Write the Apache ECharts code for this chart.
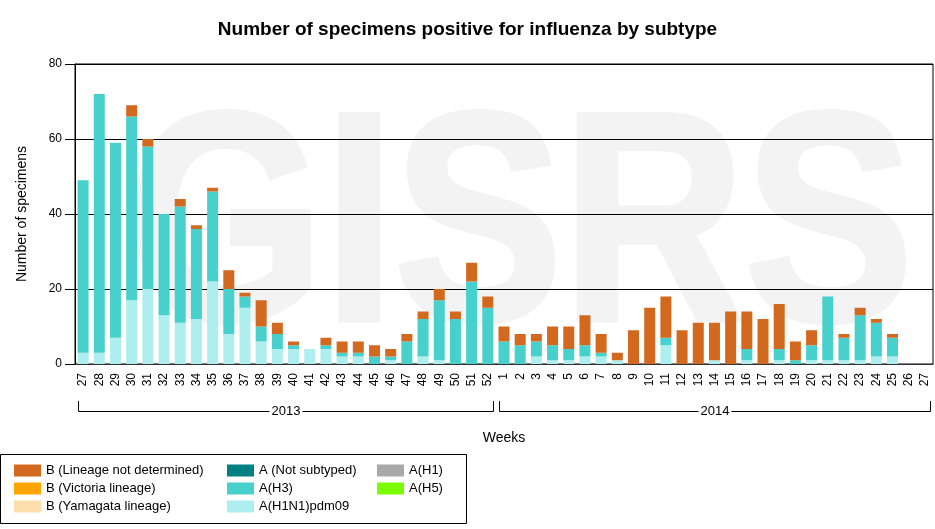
<!doctype html>
<html>
<head>
<meta charset="utf-8">
<title>Number of specimens positive for influenza by subtype</title>
<style>
  html, body { margin: 0; padding: 0; background: #fff; }
  #chart { width: 935px; height: 529px; }
</style>
</head>
<body>
<div id="chart"></div>
<script src="https://cdn.jsdelivr.net/npm/echarts@6/dist/echarts.min.js"></script>
<script>
// weeks 27/2013 .. 27/2014
var weeks = ['27','28','29','30','31','32','33','34','35','36','37','38','39','40','41','42','43','44','45','46','47','48','49','50','51','52',
             '1','2','3','4','5','6','7','8','9','10','11','12','13','14','15','16','17','18','19','20','21','22','23','24','25','26','27'];
var years = [{ name: '2013', from: 0, to: 25 }, { name: '2014', from: 26, to: 52 }];

var pdm09 = [3,3,7,17,20,13,11,12,22,8,15,6,4,4,4,4,2,2,0,1,0,2,1,0,0,0,
             0,0,2,1,1,2,2,1,0,0,5,0,0,1,0,1,0,1,0,1,1,1,1,2,2,0,0];
var h3    = [46,69,52,49,38,27,31,24,24,12,3,4,4,1,0,1,1,1,2,1,6,10,16,12,22,15,
             6,5,4,4,3,3,1,0,0,0,2,0,0,0,0,3,0,3,1,4,17,6,12,9,5,0,0];
var bNotDet = [0,0,0,3,2,0,2,1,1,5,1,7,3,1,0,2,3,3,3,2,2,2,3,2,5,3,
               4,3,2,5,6,8,5,2,9,15,11,9,11,10,14,10,12,12,5,4,0,1,2,1,1,0,0];
// subtypes reported with no positives in this period
var h1 = [];
var h5 = [];
var notSubtyped = [];
var bYamagata = [];
var bVictoria = [];

var font = '"Liberation Sans", Arial, sans-serif';
var chart = echarts.init(document.getElementById('chart'));

function bar(name, data, color) {
    return { name: name, type: 'bar', stack: 'all', data: data, barWidth: 11,
             itemStyle: { color: color }, emphasis: { disabled: true } };
}

function legendCol(left, names) {
    return {
        orient: 'vertical', left: left, top: 464, padding: 0,
        itemWidth: 27, itemHeight: 12, itemGap: 5, icon: 'rect',
        selectedMode: false,
        textStyle: { fontSize: 13, color: '#000', fontFamily: font },
        data: names
    };
}

var option = {
    animation: false,
    textStyle: { fontFamily: font },
    title: {
        text: 'Number of specimens positive for influenza by subtype',
        left: 'center', top: 15,
        textStyle: { fontSize: 19, fontWeight: 'bold', color: '#000', fontFamily: font }
    },
    graphic: [
        // faint GISRS watermark behind the plot
        { type: 'text', left: 125, top: 86, scaleX: 0.85, z: -10, silent: true,
          style: { text: 'GISRS', font: 'bold 297px "Liberation Sans"', fill: '#f3f3f3',
                   stroke: '#f3f3f3', lineWidth: 6 } },
        { type: 'rect', shape: { x: 0.5, y: 454.5, width: 466, height: 69 },
          style: { fill: 'none', stroke: '#000', lineWidth: 1 } }
    ],
    legend: [
        legendCol(14, ['B (Lineage not determined)', 'B (Victoria lineage)', 'B (Yamagata lineage)']),
        legendCol(227, ['A (Not subtyped)', 'A(H3)', 'A(H1N1)pdm09']),
        legendCol(377, ['A(H1)', 'A(H5)'])
    ],
    grid: { left: 75, right: 2, top: 64, bottom: 165, show: true, borderColor: '#000', borderWidth: 1,
            backgroundColor: 'transparent' },
    xAxis: {
        type: 'category', data: weeks,
        name: 'Weeks', nameLocation: 'middle', nameGap: 67,
        nameTextStyle: { fontSize: 14, color: '#000' },
        axisLine: { lineStyle: { color: '#333' } },
        axisTick: { alignWithLabel: true, length: 5, lineStyle: { color: '#000' } },
        axisLabel: { interval: 0, rotate: 90, margin: 9, fontSize: 12, color: '#000' }
    },
    yAxis: {
        type: 'value', min: 0, max: 80, interval: 20,
        name: 'Number of specimens', nameLocation: 'middle', nameRotate: 90, nameGap: 46,
        nameTextStyle: { fontSize: 14, color: '#000' },
        axisLine: { show: true, lineStyle: { color: '#000' } },
        axisTick: { show: true, length: 10, lineStyle: { color: '#000' } },
        axisLabel: { margin: 13, fontSize: 12, color: '#000' },
        splitLine: { lineStyle: { color: '#000', width: 1 } }
    },
    series: [
        bar('A(H1N1)pdm09', pdm09, '#AFEEEE'),
        bar('A(H1)', h1, '#A9A9A9'),
        bar('A(H3)', h3, '#48D1CC'),
        bar('A(H5)', h5, '#7CFC00'),
        bar('A (Not subtyped)', notSubtyped, '#008080'),
        bar('B (Yamagata lineage)', bYamagata, '#FFDEAD'),
        bar('B (Victoria lineage)', bVictoria, '#FFA500'),
        bar('B (Lineage not determined)', bNotDet, '#D2691E')
    ]
};
chart.setOption(option);

// year brackets under the week labels, placed from the category axis
var px = function (i) { return chart.convertToPixel({ xAxisIndex: 0 }, i); };
var half = (px(1) - px(0)) / 2;
var rightEdge = 935 - 2;
var extra = [];
years.forEach(function (y) {
    var x0 = Math.round(px(y.from) - half + 3) + 0.5;
    var x1 = Math.min(Math.round(px(y.to) + half - 3), rightEdge) + 0.5;
    extra.push({ type: 'polyline', shape: { points: [[x0, 401], [x0, 411.5], [x1, 411.5], [x1, 401]] },
                 style: { stroke: '#000', fill: 'none', lineWidth: 1 } });
    extra.push({ type: 'text', x: (x0 + x1) / 2, y: 411.5,
                 style: { text: y.name, font: '13px ' + font, fill: '#000', align: 'center', verticalAlign: 'middle',
                          backgroundColor: '#fff', padding: [0, 2] } });
});
chart.setOption({ graphic: option.graphic.concat(extra) });
</script>
</body>
</html>
